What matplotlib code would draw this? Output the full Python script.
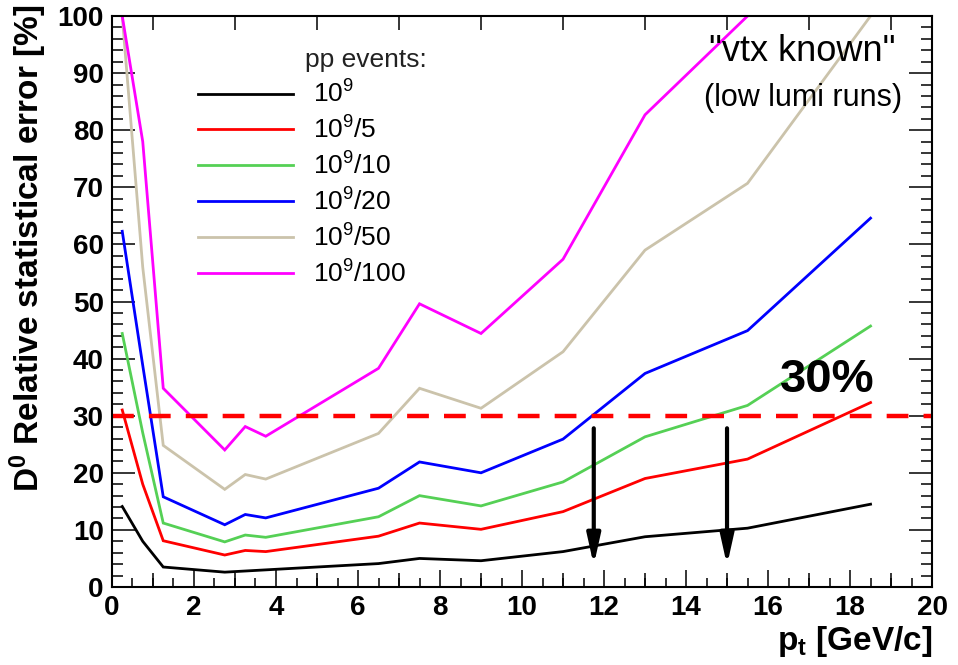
import matplotlib
matplotlib.use("Agg")
import matplotlib.pyplot as plt
from matplotlib.ticker import MultipleLocator, FixedLocator, NullFormatter

plt.rcParams["font.family"] = ["Liberation Sans", "DejaVu Sans"]
plt.rcParams["mathtext.fontset"] = "custom"
plt.rcParams["mathtext.rm"] = "Liberation Sans"
plt.rcParams["mathtext.bf"] = "Liberation Sans:bold"
plt.rcParams["mathtext.it"] = "Liberation Sans:italic"

# pt bins [GeV/c]
pt = [0.25, 0.75, 1.25, 2.75, 3.25, 3.75, 6.5, 7.5, 9.0, 11.0, 13.0, 15.5, 18.5]

# relative statistical error [%] for each number of pp events
err_1e9 = [14.1, 8.0, 3.5, 2.6, 2.8, 3.0, 4.1, 5.0, 4.6, 6.2, 8.8, 10.3, 14.5]
err_1e9_5 = [31.0, 18.0, 8.1, 5.6, 6.4, 6.2, 8.9, 11.2, 10.1, 13.2, 19.0, 22.4, 32.3]
err_1e9_10 = [44.4, 27.0, 11.2, 7.9, 9.1, 8.7, 12.3, 16.0, 14.2, 18.4, 26.3, 31.8, 45.7]
err_1e9_20 = [62.3, 38.8, 15.8, 10.9, 12.7, 12.1, 17.3, 21.9, 20.0, 25.9, 37.4, 44.9, 64.6]
err_1e9_50 = [100.0, 56.0, 24.8, 17.1, 19.7, 18.9, 26.9, 34.8, 31.3, 41.2, 59.0, 70.7, 100.0]
err_1e9_100 = [100.0, 78.0, 34.8, 24.0, 28.1, 26.4, 38.3, 49.6, 44.4, 57.4, 82.7, 100.0, 140.0]

labels = [r"$\mathrm{10^{9}}$", r"$\mathrm{10^{9}}$/5", r"$\mathrm{10^{9}}$/10",
          r"$\mathrm{10^{9}}$/20", r"$\mathrm{10^{9}}$/50", r"$\mathrm{10^{9}}$/100"]
colors = ["#000000", "#ff0000", "#55d055", "#0000ff", "#cbc3ab", "#ff00ff"]
series = [err_1e9, err_1e9_5, err_1e9_10, err_1e9_20, err_1e9_50, err_1e9_100]

threshold = 30.0
arrow_pt = [11.75, 15.0]
arrow_top, arrow_bottom = 27.8, 3.8

fig = plt.figure(figsize=(9.58, 6.65), dpi=100)
ax = fig.add_axes([0.1169, 0.1173, 0.856, 0.8586])

for y, c, lab in zip(series, colors, labels):
    ax.plot(pt, y, color=c, lw=2.0, label=lab, solid_joinstyle="miter")

ax.axhline(threshold, color="#ff0000", lw=3.2, linestyle=(0, (4.9, 3.4)))

for xa in arrow_pt:
    ax.annotate("", xy=(xa, arrow_bottom), xytext=(xa, arrow_top),
                arrowprops=dict(arrowstyle="-|>,head_length=0.9,head_width=0.2",
                                lw=3, color="black", shrinkA=0, shrinkB=0,
                                mutation_scale=20))

ax.set_xlim(0, 20)
ax.set_ylim(0, 100)

# ROOT-like ticks
ax.xaxis.set_major_locator(MultipleLocator(2))
ax.xaxis.set_minor_locator(MultipleLocator(0.5))
ax.yaxis.set_major_locator(MultipleLocator(10))
ax.yaxis.set_minor_locator(MultipleLocator(2))
ax.tick_params(axis="x", which="major", direction="in", length=12.5, width=1.1,
               top=True, labelsize=20, pad=6)
ax.tick_params(axis="x", which="minor", direction="in", length=6.5, width=1.1, top=True)
ax.tick_params(axis="y", which="major", direction="in", length=16.5, width=1.1,
               right=True, labelsize=20, pad=6)
ax.tick_params(axis="y", which="minor", direction="in", length=8, width=1.1, right=True)
for t in ax.get_xticklabels() + ax.get_yticklabels():
    t.set_fontweight("bold")
for s in ax.spines.values():
    s.set_linewidth(1.5)

# medium ticks at odd integers
ax2 = ax.twiny()
ax2.set_xlim(ax.get_xlim())
ax2.xaxis.set_major_locator(FixedLocator([1, 3, 5, 7, 9, 11, 13, 15, 17, 19]))
ax2.xaxis.set_major_formatter(NullFormatter())
ax2.xaxis.set_minor_locator(FixedLocator([]))
ax2.tick_params(axis="x", which="major", direction="in", length=10, width=1.1,
                bottom=True, top=True, labelbottom=False, labeltop=False)
for s in ax2.spines.values():
    s.set_visible(False)

ax.set_xlabel(r"$\mathbf{p_{t}}$ [GeV/c]", fontsize=24, fontweight="bold",
              loc="right", labelpad=2)
ax.set_ylabel(r"$\mathbf{D^{0}}$ Relative statistical error [%]", fontsize=24,
              fontweight="bold", loc="top")
ax.yaxis.set_label_coords(-0.077, 1.02)

leg = ax.legend(loc="upper left", bbox_to_anchor=(0.105, 0.887), frameon=False,
                fontsize=19, handlelength=3.6, handletextpad=0.75,
                labelspacing=0.33, borderpad=0, borderaxespad=0)
for h in leg.legend_handles:
    h.set_linewidth(2.0)

ax.text(4.7, 92.3, "pp events:", fontsize=19, va="center", ha="left", color="#222222")
ax.text(19.1, 93.7, '"vtx known"', fontsize=26, va="center", ha="right")
ax.text(19.27, 85.6, "(low lumi runs)", fontsize=22, va="center", ha="right")
ax.text(16.3, 34.2, "30%", fontsize=34, fontweight="bold", va="baseline", ha="left")

fig.savefig("out.png", dpi=100)
